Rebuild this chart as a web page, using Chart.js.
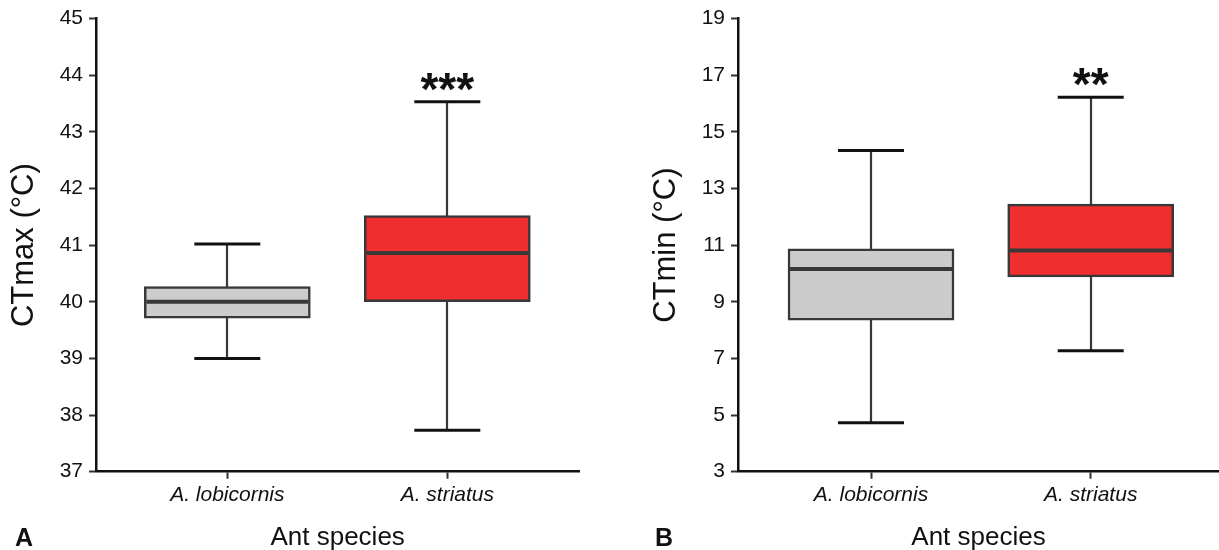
<!DOCTYPE html>
<html>
<head>
<meta charset="utf-8">
<script src="https://cdn.jsdelivr.net/npm/chart.js@4.4.1/dist/chart.umd.min.js"></script>
<style>
  html, body { margin: 0; padding: 0; background: #fff; }
  #wrap { position: relative; width: 1219px; height: 550px; overflow: hidden; }
  .panel { position: absolute; top: 0; height: 550px; }
  #panelA { left: 0; width: 600px; }
  #panelB { left: 642px; width: 577px; }
  .tag { position: absolute; top: 524px; font: bold 25px Arial, "Liberation Sans", sans-serif; color: #111; line-height: 26px; }
</style>
</head>
<body>
<div id="wrap">
  <div class="panel" id="panelA"><canvas id="chartA"></canvas></div>
  <div class="panel" id="panelB"><canvas id="chartB"></canvas></div>
  <div class="tag" style="left:15px">A</div>
  <div class="tag" style="left:655px">B</div>
</div>
<script>
// species on the x axis
var species = ["A. lobicornis", "A. striatus"];
var speciesPos = [1, 2];
var boxColors = ["#cccccc", "#ee2e2f"];

// panel A: CTmax
var ctmaxMin = [39.0, 37.73];
var ctmaxQ1 = [39.71, 40.0];
var ctmaxMedian = [40.0, 40.86];
var ctmaxQ3 = [40.27, 41.52];
var ctmaxMax = [41.02, 43.53];
var ctmaxSignif = ["", "***"];
var ctmaxTicks = [37, 38, 39, 40, 41, 42, 43, 44, 45];

// panel B: CTmin
var ctminMin = [4.73, 7.27];
var ctminQ1 = [8.35, 9.88];
var ctminMedian = [10.16, 10.81];
var ctminQ3 = [10.87, 12.45];
var ctminMax = [14.34, 16.22];
var ctminSignif = ["", "**"];
var ctminTicks = [3, 5, 7, 9, 11, 13, 15, 17, 19];

var FONT = 'Arial, "Liberation Sans", sans-serif';
var INK = "#111111";
var LINE = "#383838";

// whiskers, caps, medians and stars, drawn with the chart's own scales
var boxWhiskerPlugin = {
    id: "boxWhiskers",
    beforeDatasetsDraw: function (chart, args, opts) {
        var ctx = chart.ctx;
        var xs = chart.scales.x;
        var ys = chart.scales.y;
        ctx.save();
        ctx.strokeStyle = LINE;
        ctx.lineWidth = 2.2;
        speciesPos.forEach(function (p, i) {
            var px = Math.round(xs.getPixelForValue(p));
            ctx.beginPath();
            ctx.moveTo(px, ys.getPixelForValue(opts.min[i]));
            ctx.lineTo(px, ys.getPixelForValue(opts.max[i]));
            ctx.stroke();
        });
        ctx.restore();
    },
    afterDatasetsDraw: function (chart, args, opts) {
        var ctx = chart.ctx;
        var xs = chart.scales.x;
        var ys = chart.scales.y;
        ctx.save();
        speciesPos.forEach(function (p, i) {
            var px = xs.getPixelForValue(p);
            var half = 82;
            // median
            ctx.strokeStyle = LINE;
            ctx.lineWidth = 4;
            var my = ys.getPixelForValue(opts.median[i]);
            ctx.beginPath();
            ctx.moveTo(px - half + 1, my);
            ctx.lineTo(px + half - 1, my);
            ctx.stroke();
            // caps
            ctx.strokeStyle = INK;
            ctx.lineWidth = 3;
            [opts.min[i], opts.max[i]].forEach(function (v) {
                var cy = ys.getPixelForValue(v);
                ctx.beginPath();
                ctx.moveTo(px - 33, cy);
                ctx.lineTo(px + 33, cy);
                ctx.stroke();
            });
            // significance stars
            if (opts.signif[i]) {
                ctx.fillStyle = INK;
                ctx.font = "bold 46px " + FONT;
                ctx.textAlign = "center";
                ctx.textBaseline = "alphabetic";
                ctx.fillText(opts.signif[i], px, ys.getPixelForValue(opts.max[i]) + 3);
            }
        });
        ctx.restore();
    }
};

function makeBoxChart(canvasId, stats, yTicks, yTitle, xRange, rightPad) {
    var boxes = speciesPos.map(function (p, i) {
        return { x: p, y: [stats.q1[i], stats.q3[i]] };
    });

    var data = {
        datasets: [
            {
                data: boxes,
                backgroundColor: boxColors,
                borderColor: LINE,
                borderWidth: 2.5,
                borderSkipped: false,
                barThickness: 166,
            },
        ],
    };

    var options = {
        responsive: true,
        maintainAspectRatio: false,
        animation: false,
        layout: {
            padding: { left: 0, top: 16, right: rightPad, bottom: 0 },
        },
        plugins: {
            legend: { display: false },
            tooltip: { enabled: false },
            boxWhiskers: stats,
        },
        scales: {
            x: {
                type: "linear",
                offset: false,
                min: xRange[0],
                max: xRange[1],
                afterBuildTicks: function (scale) {
                    scale.ticks = speciesPos.map(function (v) { return { value: v }; });
                },
                afterFit: function (scale) {
                    scale.height = 78.3;
                },
                ticks: {
                    autoSkip: false,
                    maxRotation: 0,
                    padding: 4,
                    color: INK,
                    font: { family: FONT, size: 21, style: "italic" },
                    callback: function (v) {
                        return species[speciesPos.indexOf(v)];
                    },
                },
                grid: {
                    offset: false,
                    drawOnChartArea: false,
                    drawTicks: true,
                    tickLength: 7,
                    tickWidth: 2,
                    tickColor: "#333333",
                },
                border: { color: INK, width: 2.5 },
                title: {
                    display: true,
                    text: "Ant species",
                    color: INK,
                    font: { family: FONT, size: 26, lineHeight: 0.9 },
                    padding: { top: 0, bottom: 0 },
                },
            },
            y: {
                min: yTicks[0],
                max: yTicks[yTicks.length - 1],
                afterBuildTicks: function (scale) {
                    scale.ticks = yTicks.map(function (v) { return { value: v }; });
                },
                afterFit: function (scale) {
                    scale.width = 96;
                },
                ticks: {
                    padding: 6,
                    color: INK,
                    font: { family: FONT, size: 21 },
                },
                grid: {
                    drawOnChartArea: false,
                    drawTicks: true,
                    tickLength: 7,
                    tickWidth: 2,
                    tickColor: "#333333",
                },
                border: { color: INK, width: 2.5 },
                title: {
                    display: true,
                    text: yTitle,
                    color: INK,
                    font: { family: FONT, size: 31 },
                    padding: { top: 6, bottom: 0 },
                },
            },
        },
    };

    return new Chart(document.getElementById(canvasId).getContext("2d"), {
        type: "bar",
        data: data,
        options: options,
        plugins: [boxWhiskerPlugin],
    });
}

makeBoxChart("chartA", {
    min: ctmaxMin, q1: ctmaxQ1, median: ctmaxMedian, q3: ctmaxQ3, max: ctmaxMax, signif: ctmaxSignif,
}, ctmaxTicks, "CTmax (°C)", [0.403, 2.600], 20.7);

makeBoxChart("chartB", {
    min: ctminMin, q1: ctminQ1, median: ctminMedian, q3: ctminQ3, max: ctminMax, signif: ctminSignif,
}, ctminTicks, "CTmin (°C)", [0.3946, 2.584], 0);
</script>
</body>
</html>
